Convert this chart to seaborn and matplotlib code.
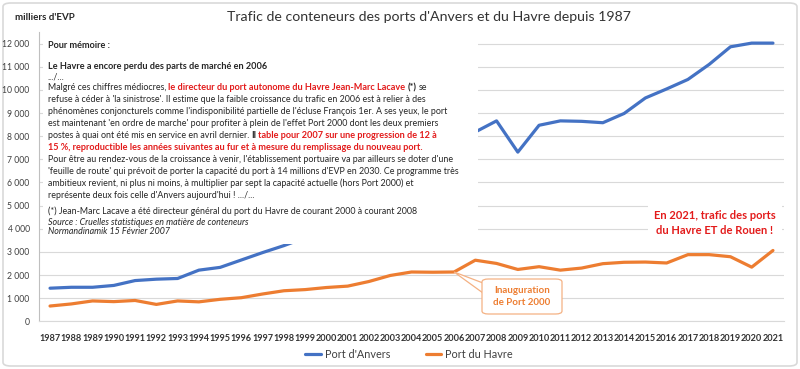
import numpy as np
import pandas as pd
import matplotlib
matplotlib.use("Agg")
import matplotlib.pyplot as plt
import seaborn as sns
from matplotlib.patches import FancyBboxPatch, Rectangle, Polygon
from matplotlib.text import Annotation

# ---------------- data ----------------
years = list(range(1987, 2022))
anvers = [1430, 1470, 1470, 1550, 1760, 1820, 1850, 2210, 2330, 2650, 2970, 3270,
          3610, 4080, 4220, 4780, 5450, 6060, 6480, 7020, 8180, 8660, 7310, 8470,
          8660, 8640, 8580, 8980, 9650, 10040, 10450, 11100, 11860, 12020, 12020]
havre = [660, 750, 880, 850, 900, 730, 880, 840, 950, 1020, 1180, 1320,
         1370, 1460, 1520, 1720, 1980, 2130, 2120, 2130, 2640, 2500, 2240, 2360,
         2210, 2300, 2490, 2550, 2560, 2520, 2880, 2880, 2790, 2340, 3060]
series_names = ["Port d'Anvers", "Port du Havre"]
y_ticks = list(range(0, 12001, 1000))
title = "Trafic de conteneurs des ports d'Anvers et du Havre depuis 1987"
unit_label = "milliers d'EVP"
callout_year = 2006
callout_text = "Inauguration\nde Port 2000"
note_2021 = "En 2021, trafic des ports\ndu Havre ET de Rouen !"

BLUE = "#4472C4"
ORANGE = "#ED7D31"
RED = "#E31B1B"
TXT = "#262626"

sns.set_style("white")
plt.rcParams["font.family"] = ["Lato", "DejaVu Sans"]

W, H = 800, 369
fig = plt.figure(figsize=(W / 100, H / 100), dpi=100)


def fx(x):
    return x / W


def fy(y):
    return 1 - y / H


ax = fig.add_axes([fx(39.4), fy(321.3), (783.6 - 39.4) / W, (321.3 - 32) / H])

df = pd.DataFrame({
    "Année": years * 2,
    "EVP": anvers + havre,
    "Port": [series_names[0]] * len(years) + [series_names[1]] * len(years),
})
sns.lineplot(data=df, x="Année", y="EVP", hue="Port", palette=[BLUE, ORANGE],
             linewidth=2.3, ax=ax, legend=True)

ax.set_xlim(years[0] - 0.5, years[-1] + 0.5)
ax.set_ylim(0, 12500)
ax.set_xticks(years)
ax.set_xticklabels([str(y) for y in years], fontsize=6.6, fontweight="bold", color="#333333")
ax.set_yticks(y_ticks)
ax.set_yticklabels([f"{v:,}".replace(",", " ") for v in y_ticks], fontsize=6.2, color="#404040")
ax.set_xlabel("")
ax.set_ylabel("")
ax.yaxis.grid(True, color="#D9D9D9", lw=0.8)
ax.xaxis.grid(False)
for s in ["top", "right"]:
    ax.spines[s].set_visible(False)
ax.spines["left"].set_color("#BFBFBF")
ax.spines["left"].set_linewidth(0.8)
ax.spines["bottom"].set_color("#D9D9D9")
ax.spines["bottom"].set_linewidth(0.8)
ax.tick_params(axis="y", direction="inout", length=6, width=0.8, color="#BFBFBF", pad=4)
ax.tick_params(axis="x", length=0, pad=9)

leg = ax.legend(loc="center", bbox_to_anchor=(fx(409), fy(354)), bbox_transform=fig.transFigure,
                ncol=2, frameon=False, fontsize=7.8, handlelength=1.45, columnspacing=3.3,
                handletextpad=0.36)
for t in leg.get_texts():
    t.set_color("#404040")
for l in leg.get_lines():
    l.set_linewidth(2.3)

# ---------------- figure decorations ----------------
fig.add_artist(FancyBboxPatch((fx(3), fy(366)), fx(794), 363 / H,
                              boxstyle="round,pad=0,rounding_size=0.01",
                              transform=fig.transFigure, fc="none", ec="#D9D9D9", lw=1.2, zorder=0))

fig.text(fx(429), fy(17), title, fontsize=10.2, color="#333333", ha="center", va="center")
fig.text(fx(15), fy(17), unit_label, fontsize=7, fontweight="bold", color=TXT, ha="left", va="center")

# white box hiding the chart behind the text
fig.add_artist(Rectangle((fx(43), fy(244)), (478 - 43) / W, (244 - 36) / H,
                         transform=fig.transFigure, fc="white", ec="none", zorder=1))

FS = 6.38
FSB = 6.55


def text_line(y, pieces, x0=48):
    prev = None
    for txt, weight, color, style in pieces:
        size = FSB if weight == "bold" else FS
        kw = dict(fontsize=size, fontweight=weight, color=color, fontstyle=style,
                  va="center", ha="left", zorder=3)
        if prev is None:
            t = fig.text(fx(x0), fy(y), txt, **kw)
        else:
            t = Annotation(txt, xy=(1, 0.5), xycoords=prev, xytext=(FS * 0.23, 0),
                           textcoords="offset points", **kw)
            fig.add_artist(t)
        prev = t


N, B, I = "normal", "bold", "italic"
text_line(45.7, [("Pour mémoire :", B, TXT, N)])
text_line(66.7, [("Le Havre a encore perdu des parts de marché en 2006", B, TXT, N)])
text_line(76.5, [(".../...", N, TXT, N)])
text_line(87.5, [("Malgré ces chiffres médiocres,", N, TXT, N),
                 ("le directeur du port autonome du Havre Jean-Marc Lacave", B, RED, N),
                 ("(*)", B, TXT, N), ("se", N, TXT, N)])
text_line(99.5, [("refuse à céder à 'la sinistrose'. Il estime que la faible croissance du trafic en 2006 est à relier à des", N, TXT, N)])
text_line(111.5, [("phénomènes conjoncturels comme l'indisponibilité partielle de l'écluse François 1er. A ses yeux, le port", N, TXT, N)])
text_line(123.5, [("est maintenant 'en ordre de marche' pour profiter à plein de l'effet Port 2000 dont les deux premiers", N, TXT, N)])
text_line(135.5, [("postes à quai ont été mis en service en avril dernier.", N, TXT, N),
                  ("Il", B, TXT, N),
                  ("table pour 2007 sur une progression de 12 à", B, RED, N)])
text_line(147.5, [("15 %, reproductible les années suivantes au fur et à mesure du remplissage du nouveau port.", B, RED, N)])
text_line(159.5, [("Pour être au rendez-vous de la croissance à venir, l'établissement portuaire va par ailleurs se doter d'une", N, TXT, N)])
text_line(171.5, [("'feuille de route' qui prévoit de porter la capacité du port à 14 millions d'EVP en 2030. Ce programme très", N, TXT, N)])
text_line(183.5, [("ambitieux revient, ni plus ni moins, à multiplier par sept la capacité actuelle (hors Port 2000) et", N, TXT, N)])
text_line(195.5, [("représente deux fois celle d'Anvers aujourd'hui ! .../...", N, TXT, N)])
text_line(211.5, [("(*) Jean-Marc Lacave a été directeur général du port du Havre de courant 2000 à courant 2008", N, TXT, N)])
text_line(222, [("Source : Cruelles statistiques en matière de conteneurs", N, TXT, I)])
text_line(232, [("Normandinamik 15 Février 2007", N, TXT, I)])

# 2021 note
fig.add_artist(Rectangle((fx(648), fy(247)), (782 - 648) / W, (247 - 199) / H,
                         transform=fig.transFigure, fc="white", ec="none", zorder=1))
fig.text(fx(715), fy(223), note_2021, fontsize=8, fontweight="bold", color=RED,
         ha="center", va="center", linespacing=1.55, zorder=3)

# callout for Port 2000
tip = ax.transData.transform((callout_year, havre[years.index(callout_year)]))
tip_fig = fig.transFigure.inverted().transform(tip)
fig.add_artist(Polygon([tip_fig, (fx(483), fy(283)), (fx(483), fy(293))], closed=True,
                       transform=fig.transFigure, fc="white", ec="#F4B183", lw=0.9, zorder=2))
fig.add_artist(FancyBboxPatch((fx(482), fy(314)), 80 / W, 35 / H,
                              boxstyle="round,pad=0,rounding_size=0.008",
                              transform=fig.transFigure, fc="white", ec="#F4B183", lw=0.9, zorder=2))
fig.text(fx(522), fy(296.5), callout_text, fontsize=7, fontweight="bold", color=ORANGE,
         ha="center", va="center", linespacing=1.5, zorder=3)

fig.savefig("out.png", dpi=100)
